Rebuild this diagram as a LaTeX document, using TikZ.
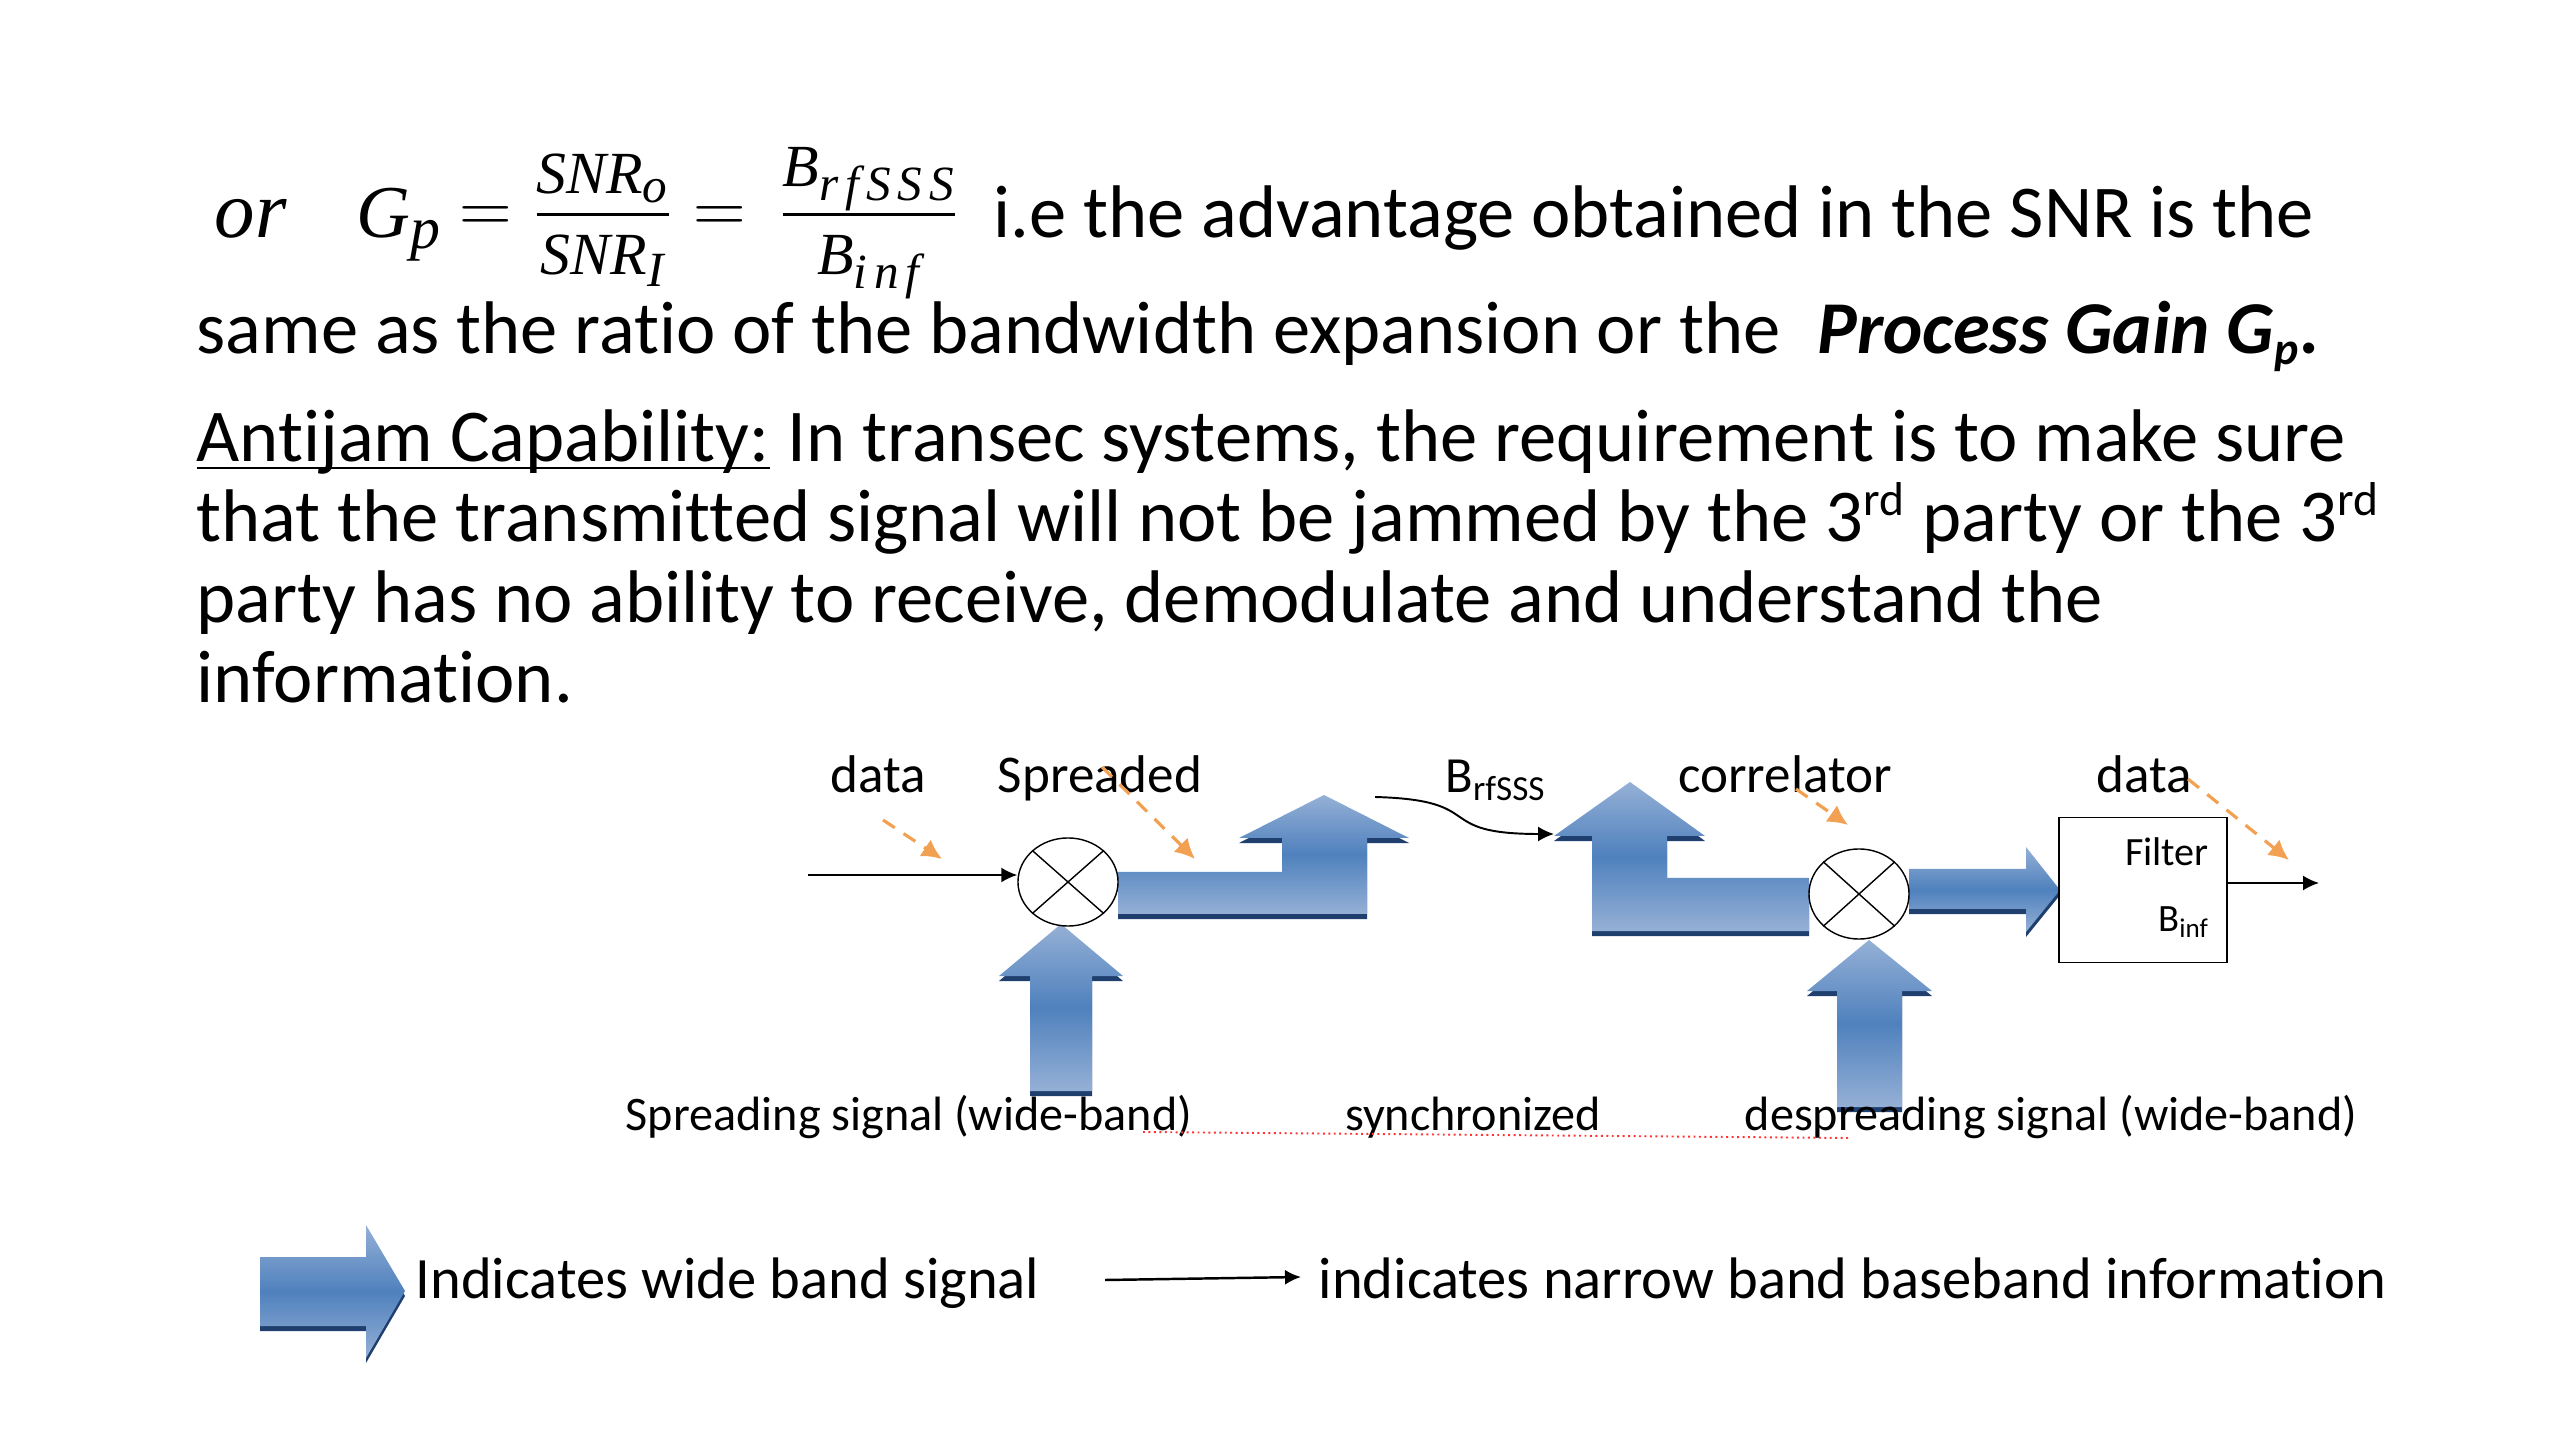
\documentclass[tikz,border=0pt]{standalone}
\usepackage{amsmath}
\usepackage{fontspec}
\setmainfont{Carlito}[Ligatures=CommonOff]
\newfontfamily\eqfont{Liberation Serif}
\DeclareMathSizes{21.2}{21.2}{17}{14}
\usetikzlibrary{shapes.geometric,arrows.meta}
\definecolor{bandlight}{HTML}{95B0D6}
\definecolor{bandmid}{HTML}{4F81BD}
\definecolor{banddark}{HTML}{1F3F6E}
\definecolor{notemark}{HTML}{F2A052}
\tikzset{
  bigtext/.style={anchor=base west,inner sep=0pt,font=\fontsize{21.2}{25}\selectfont},
  keytext/.style={anchor=base west,inner sep=0pt,font=\fontsize{16.65}{20}\selectfont},
  toptext/.style={anchor=base,inner sep=0pt,font=\fontsize{15.1}{18}\selectfont},
  smalltext/.style={anchor=base,inner sep=0pt,font=\fontsize{13.7}{16}\selectfont},
  tinytext/.style={inner sep=0pt,font=\fontsize{11.4}{14}\selectfont},
  mixer/.style={draw,ellipse,fill=white,inner sep=0pt,line width=0.4pt},
  narrow/.style={-{Latex[length=1.6mm,width=1.5mm]},line width=0.55pt},
  note/.style={-{Latex[length=2mm,width=2mm]},notemark,line width=0.9pt,dash pattern=on 4pt off 3pt},
  band/.style={top color=bandlight,bottom color=bandlight,middle color=bandmid,draw=none},
  bandedge/.style={fill=banddark,draw=none,yshift=-0.05cm}
}
\newcommand{\bandshape}[1]{
  \fill[bandedge] #1;
  \shade[band] #1;
}
\newcommand{\mv}[1]{\text{\eqfont\itshape #1}}
\newcommand{\mvwide}[1]{\text{\eqfont\itshape\addfontfeature{LetterSpace=14}#1}}
\newcommand{\eqfrac}[2]{\genfrac{}{}{0.75pt}{1}{#1}{#2}}
\newcommand{\numstrut}{\rule[-1.7mm]{0pt}{1mm}}
\newcommand{\denstrut}{\rule{0pt}{5.6mm}}
\newcommand{\supsmall}[1]{\textsuperscript{\fontsize{13.5}{14}\selectfont #1}}
\newlength{\ulwd}
\newcommand{\ulword}[1]{\settowidth{\ulwd}{#1}\rlap{\rule[-0.75mm]{\ulwd}{0.6pt}}#1}
\begin{document}
\begin{tikzpicture}[x=0.01cm,y=-0.01cm]
  \useasboundingbox (0,0) rectangle (2560,1440);
  % equation line
  \node[anchor=base west,inner sep=0pt,font=\eqfont\itshape\fontsize{23}{26}\selectfont] (orword) at (214,238) {or};
  \node[bigtext] (gainsym) at (356,238) {$\mv{G}_{\mv{p}}$};
  \node[bigtext] (gaineq) at (459,233)
    {$=\eqfrac{\numstrut\mv{SNR}_{\mv{o}}}{\denstrut\mv{SNR}_{\mv{I}}}=\,\eqfrac{\mv{B}_{\mvwide{rfSSS}}}{\denstrut\mv{B}_{\mvwide{inf}}}$};
  \node[bigtext] (line1) at (993,238) {i.e the advantage obtained in the SNR is the};
  \node[bigtext] (line2) at (196,354) {same as the ratio of the bandwidth expansion or the};
  \node[bigtext] (gainname) at (1817,354) {\bfseries\itshape Process Gain G\textsubscript{\fontsize{13}{14}\selectfont p}.};
  \node[bigtext] (line3) at (196,462) {\ulword{Antijam Capability:}\hspace{-1.2pt} In transec systems, the requirement is to make sure};
  \node[bigtext] (line4) at (196,542) {that the transmitted signal will not be jammed by the 3\supsmall{rd} party or the 3\supsmall{rd}};
  \node[bigtext] (line5) at (196,623) {party has no ability to receive, demodulate and understand the};
  \node[bigtext] (line6) at (196,703) {information.};
  % wide band arrows
  \bandshape{(1118,872) -- (1282,872) -- (1282,838) -- (1239,838) -- (1324,795) -- (1409,838)
    -- (1367,838) -- (1367,914) -- (1118,914) -- cycle}
  \bandshape{(1030,1091) -- (1030,976) -- (999,976) -- (1061,924) -- (1123,976) -- (1092,976)
    -- (1092,1091) -- cycle}
  \bandshape{(1809,878) -- (1667,878) -- (1667,836) -- (1705,836) -- (1630,782) -- (1554,836)
    -- (1592,836) -- (1592,931) -- (1809,931) -- cycle}
  \bandshape{(1837,1107) -- (1837,991) -- (1807,991) -- (1869,940) -- (1932,991) -- (1902,991)
    -- (1902,1107) -- cycle}
  \bandshape{(1909,869) -- (2026,869) -- (2026,847) -- (2060,890) -- (2026,932) -- (2026,909)
    -- (1909,909) -- cycle}
  \bandshape{(260,1257) -- (366,1257) -- (366,1225) -- (405,1291) -- (366,1358) -- (366,1326)
    -- (260,1326) -- cycle}
  % blocks
  \node[mixer,minimum width=1cm,minimum height=0.88cm] (mix1) at (1068,882) {};
  \node[mixer,minimum width=1cm,minimum height=0.9cm] (mix2) at (1859,894) {};
  \draw (mix1.north west) -- (mix1.south east);
  \draw (mix1.north east) -- (mix1.south west);
  \draw (mix2.north west) -- (mix2.south east);
  \draw (mix2.north east) -- (mix2.south west);
  \node[draw,minimum width=1.68cm,minimum height=1.45cm,inner sep=0pt] (filter) at (2143,890) {};
  \node[tinytext] (filtername) at (2167,852) {Filter};
  \node[tinytext,font=\fontsize{11}{14}\selectfont] (filterband) at (2184,922) {B\textsubscript{inf}};
  % narrow band lines
  \coordinate (datain) at (808,875);
  \coordinate (dataout) at (2319,883);
  \coordinate (bandfrom) at (1375,797);
  \coordinate (bandto) at (1554,834);
  \coordinate (keyfrom) at (1105,1280);
  \coordinate (keyto) at (1301,1277);
  \draw[narrow] (datain) -- (mix1.west |- datain);
  \draw[narrow] (filter.east |- dataout) -- (dataout);
  \draw[narrow] (bandfrom) .. controls (1490,800) and (1430,834) .. (bandto);
  \draw[narrow,line width=0.7pt] (keyfrom) -- (keyto);
  % labels
  \node[toptext] (datal) at (878,793) {data};
  \node[toptext] (spreaded) at (1100,793) {Spreaded};
  \node[toptext,font=\fontsize{14.4}{17}\selectfont] (bandname) at (1496,793) {B\textsubscript{rfSSS}};
  \node[toptext] (correlator) at (1785,793) {correlator};
  \node[toptext] (datar) at (2144,793) {data};
  \node[smalltext] (spreadsig) at (909,1130) {Spreading signal (wide-band)};
  \node[smalltext] (syncword) at (1473,1130) {synchronized};
  \node[smalltext] (despreadsig) at (2051,1130) {despreading signal (wide-band)};
  \node[keytext] (keywide) at (415,1298) {Indicates wide band signal};
  \node[keytext] (keynarrow) at (1318,1298) {indicates narrow band baseband information};
  % marks
  \draw[note] (883,820) -- (942,859);
  \draw[note] (1102,767) -- (1195,859);
  \draw[note] (1796,789) -- (1848,825);
  \draw[note] (2188,779) -- (2289,860);
  \draw[densely dotted,red!80,line width=0.55pt] (1143,1132) -- (1848,1138);
\end{tikzpicture}
\end{document}
